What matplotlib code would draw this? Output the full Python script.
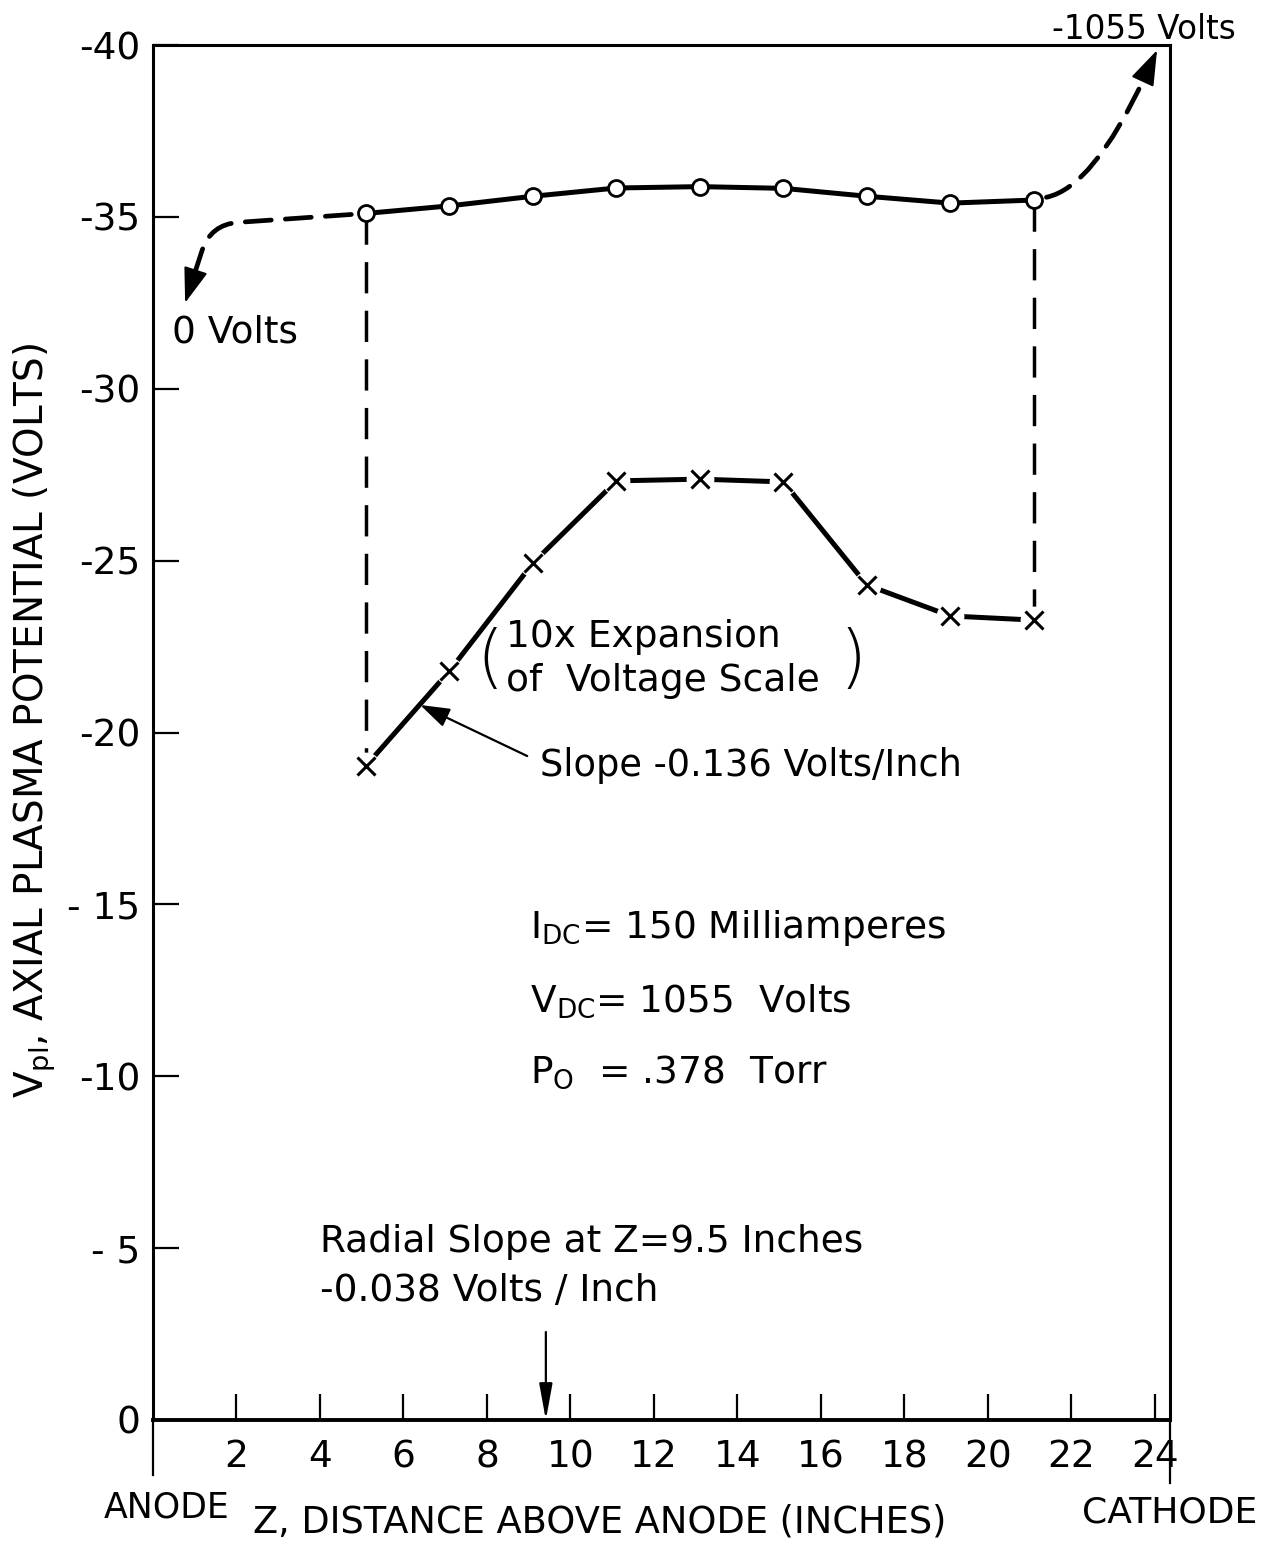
import numpy as np
import matplotlib
matplotlib.use('Agg')
import matplotlib.pyplot as plt
from matplotlib import font_manager

# axial potential (circles) and 10x expanded scale (crosses)
z_pts = [5.1, 7.1, 9.1, 11.1, 13.1, 15.1, 17.1, 19.1, 21.1]
v_axial = [-35.1, -35.32, -35.6, -35.84, -35.88, -35.83, -35.6, -35.4, -35.49]
v_expand = [-19.03, -21.79, -24.93, -27.32, -27.37, -27.29, -24.29, -23.39, -23.27]

yticks = [0, -5, -10, -15, -20, -25, -30, -35, -40]
ytick_labels = ['0', '- 5', '-10', '- 15', '-20', '-25', '-30', '-35', '-40']
xticks = [2, 4, 6, 8, 10, 12, 14, 16, 18, 20, 22, 24]

names = {f.name for f in font_manager.fontManager.ttflist}
font = 'Liberation Sans Narrow' if 'Liberation Sans Narrow' in names else 'DejaVu Sans'
plt.rcParams['font.family'] = [font, 'DejaVu Sans']
plt.rcParams['mathtext.default'] = 'regular'

fig = plt.figure(figsize=(12.76, 15.44), dpi=100)
ax = fig.add_axes([153 / 1276, 124 / 1544, 1017 / 1276, 1375 / 1544])
ax.set_xlim(0, 24.36)
ax.set_ylim(0, -40)

for s in ax.spines.values():
    s.set_linewidth(2.2)
ax.spines['bottom'].set_linewidth(2.8)

ax.set_yticks(yticks)
ax.set_yticklabels(ytick_labels)
ax.set_xticks(xticks)
ax.set_xticklabels([str(t) for t in xticks])
ax.tick_params(axis='both', direction='in', length=19, width=1.6, labelsize=27)
ax.tick_params(axis='y', pad=9)
ax.tick_params(axis='x', pad=14)

# spines running on below the bottom axis
ax.plot([0, 0], [0, -0.04], transform=ax.transAxes, color='k', lw=1.6, clip_on=False)
ax.plot([1, 1], [0, -0.046], transform=ax.transAxes, color='k', lw=1.6, clip_on=False)

# vertical dashed connectors
ax.plot([z_pts[0], z_pts[0]], [v_axial[0], v_expand[0]], color='k', lw=2.5,
        dashes=(9, 5), zorder=1)
ax.plot([z_pts[-1], z_pts[-1]], [v_axial[-1], v_expand[-1]], color='k', lw=2.5,
        dashes=(9, 5), zorder=1)

# upper curve
ax.plot(z_pts, v_axial, color='k', lw=3.6, zorder=2)
ax.plot(z_pts, v_axial, 'o', ms=11.5, mfc='white', mec='k', mew=2, zorder=4)

# lower curve with gaps around crosses
ax.plot(z_pts, v_expand, color='k', lw=3.6, zorder=2)
ax.plot(z_pts, v_expand, 'o', ms=20, mfc='white', mec='none', zorder=3)
ax.plot(z_pts, v_expand, 'x', ms=13, mec='k', mew=2.2, zorder=4)

# dashed extensions to the electrodes, with solid heads
dash_kw = dict(arrowstyle='-', lw=3.4, ls=(0, (5.5, 3)), color='k',
               shrinkA=0, shrinkB=0)
head_kw = dict(arrowstyle='-|>,head_length=1.1,head_width=0.38',
               mutation_scale=20, lw=1.5, color='k', shrinkA=0, shrinkB=0)

ax.annotate('', xy=(0.99, -33.33), xytext=(z_pts[0] - 0.35, v_axial[0] + 0.03),
            arrowprops=dict(connectionstyle='angle,angleA=184,angleB=72,rad=28',
                            **dash_kw))
ax.annotate('', xy=(0.77, -32.5), xytext=(0.99, -33.33), arrowprops=head_kw)

ax.annotate('', xy=(23.75, -39.06), xytext=(z_pts[-1] + 0.3, v_axial[-1] - 0.08),
            arrowprops=dict(connectionstyle='angle3,angleA=12,angleB=65',
                            **dash_kw))
ax.annotate('', xy=(24.05, -39.85), xytext=(23.75, -39.06), arrowprops=head_kw)

ax.text(0.45, -31.65, '0 Volts', fontsize=27, va='center', ha='left')
ax.text(21.53, -40.44, '-1055 Volts', fontsize=23.5, va='center', ha='left', clip_on=False)

# expansion note
ax.text(8.45, -22.78, '10x Expansion', fontsize=27, va='center', ha='left')
ax.text(8.45, -21.5, 'of  Voltage Scale', fontsize=27, va='center', ha='left')
ax.text(8.07, -22.1, '(', fontsize=50, va='center', ha='center', fontweight='light')
ax.text(16.77, -22.1, ')', fontsize=50, va='center', ha='center', fontweight='light')

# slope annotation
ax.annotate('Slope -0.136 Volts/Inch', xy=(6.4, -20.8), xytext=(9.27, -19.03),
            fontsize=26.5, va='center', ha='left',
            arrowprops=dict(arrowstyle='-|>,head_length=0.9,head_width=0.3',
                            mutation_scale=20, lw=1.6, color='k',
                            relpos=(0, 0.6), shrinkA=8, shrinkB=0))

# run conditions
ax.text(9.03, -14.02, r'I$_{DC}$= 150 Milliamperes', fontsize=27, va='baseline')
ax.text(9.03, -11.87, r'V$_{DC}$= 1055  Volts', fontsize=27, va='baseline')
ax.text(9.03, -9.80, r'P$_{O}$  = .378  Torr', fontsize=27, va='baseline')

# radial slope
ax.text(4.0, -4.89, 'Radial Slope at Z=9.5 Inches', fontsize=27, va='baseline')
ax.text(4.0, -3.46, '-0.038 Volts / Inch', fontsize=27, va='baseline')
ax.annotate('', xy=(9.41, 0), xytext=(9.41, -2.56),
            arrowprops=dict(arrowstyle='-|>,head_length=1.1,head_width=0.2',
                            mutation_scale=20, lw=1.6, color='k',
                            shrinkA=0, shrinkB=0))

ax.text(0.33, 2.56, 'ANODE', fontsize=25, va='center', ha='center')
ax.text(24.36, 2.68, 'CATHODE', fontsize=26, va='center', ha='center')
fig.text(600 / 1276, 1 - 1522 / 1544, 'Z, DISTANCE ABOVE ANODE (INCHES)',
         fontsize=26.5, va='center', ha='center')
fig.text(35 / 1276, 1 - 720 / 1544, r'V$_{pl}$, AXIAL PLASMA POTENTIAL (VOLTS)',
         fontsize=28, va='center', ha='center', rotation=90)

fig.savefig('out.png', dpi=100)
